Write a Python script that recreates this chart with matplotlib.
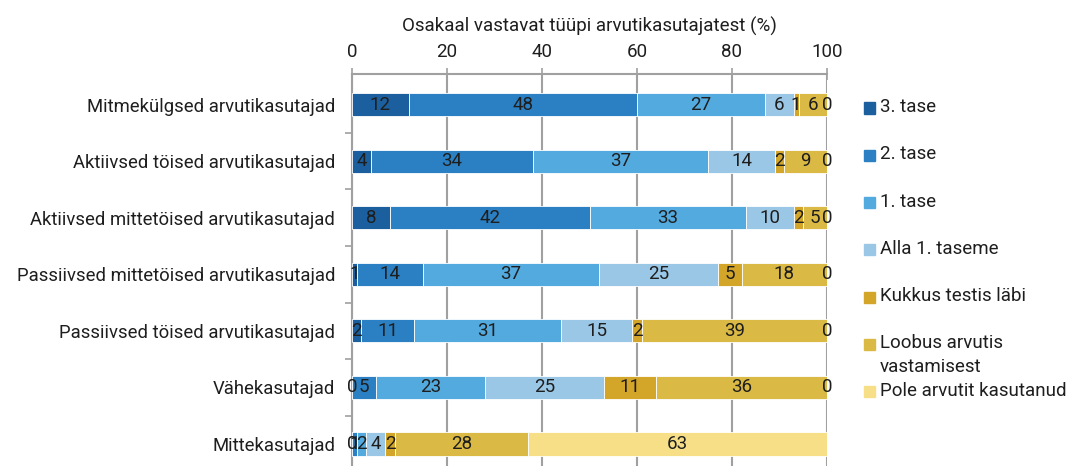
import matplotlib.pyplot as plt
from matplotlib.patches import Rectangle
import numpy as np

plt.rcParams['font.family'] = ['Roboto', 'DejaVu Sans']

# categories (top to bottom)
groups = ["Mitmekülgsed arvutikasutajad", "Aktiivsed töised arvutikasutajad",
          "Aktiivsed mittetöised arvutikasutajad", "Passiivsed mittetöised arvutikasutajad",
          "Passiivsed töised arvutikasutajad", "Vähekasutajad", "Mittekasutajad"]

series_names = ["3. tase", "2. tase", "1. tase", "Alla 1. taseme", "Kukkus testis läbi",
                "Loobus arvutis\nvastamisest", "Pole arvutit kasutanud"]
series_colors = ["#1c5f9e", "#2a80c2", "#53aadf", "#9bc7e6", "#d3a62a", "#dab944", "#f7df88"]

tase3 = [12, 4, 8, 1, 2, 0, 0]
tase2 = [48, 34, 42, 14, 11, 5, 1]
tase1 = [27, 37, 33, 37, 31, 23, 2]
alla1 = [6, 14, 10, 25, 15, 25, 4]
kukkus = [1, 2, 2, 5, 2, 11, 2]
loobus = [6, 9, 5, 18, 39, 36, 28]
pole = [0, 0, 0, 0, 0, 0, 63]

values = [tase3, tase2, tase1, alla1, kukkus, loobus, pole]

fs = 13.3
txt = '#1e1e1e'

fig = plt.figure(figsize=(10.75, 4.66), dpi=100)
ax = fig.add_axes([352/1075, 0, 475/1075, 1 - 74/466])

y = np.arange(len(groups))
left = np.zeros(len(groups))
for name, vals, col in zip(series_names, values, series_colors):
    vals = np.array(vals, dtype=float)
    bars = ax.barh(y, vals, left=left, height=0.41, color=col, edgecolor='white', linewidth=0.6, zorder=3)
    ax.bar_label(bars, labels=[str(int(v)) for v in vals], label_type='center', fontsize=13.5, color=txt, zorder=4)
    left += vals

ax.set_xlim(0, 100)
ax.set_ylim(6.39, -0.54)
ax.xaxis.tick_top()
ax.xaxis.set_label_position('top')
ax.set_xticks(np.arange(0, 101, 20))
ax.tick_params(axis='x', direction='inout', length=9, width=1.2, color='#a0a0a0', labelsize=13.5, pad=5, labelcolor=txt)
ax.set_xlabel("Osakaal vastavat tüüpi arvutikasutajatest (%)", fontsize=13.5, labelpad=8, color=txt)
ax.xaxis.grid(True, color='#a0a0a0', linewidth=1.5, zorder=0)

ax.set_yticks(y)
ax.set_yticklabels(groups, fontsize=fs, color=txt)
ax.tick_params(axis='y', which='major', length=0, pad=12)
ax.set_yticks(np.arange(0.5, 6.0, 1.0), minor=True)
ax.tick_params(axis='y', which='minor', length=5, width=1.2, color='#a0a0a0', direction='out')

for s in ['right', 'bottom']:
    ax.spines[s].set_visible(False)
ax.spines['top'].set_color('#a0a0a0')
ax.spines['top'].set_linewidth(1.5)
ax.spines['left'].set_color('#a0a0a0')
ax.spines['left'].set_linewidth(1.5)

# legend, entries at fixed spacing, text top aligned
for i, (name, col) in enumerate(zip(series_names, series_colors)):
    yc = 108 + i * 47.3
    fig.add_artist(Rectangle((864/1075, 1 - (yc + 5.5)/466), 11/1075, 11/466,
                             transform=fig.transFigure, color=col))
    fig.text(880/1075, 1 - (yc - 10)/466, name, fontsize=13.5, va='top', ha='left',
             color=txt, linespacing=1.38)

fig.savefig("out.png", dpi=100)
